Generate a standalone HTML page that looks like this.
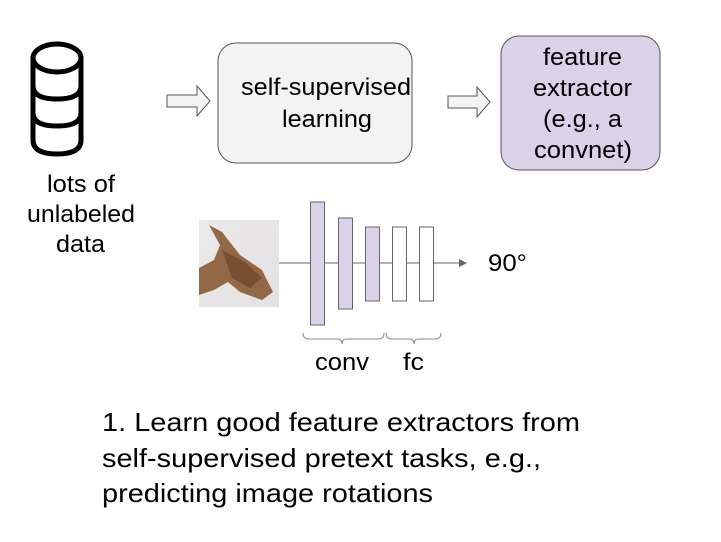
<!DOCTYPE html>
<html><head><meta charset="utf-8"><style>
html,body{margin:0;padding:0;background:#fff;}
svg{display:block;font-family:"Liberation Sans",Arial,sans-serif;}
</style></head><body>
<svg width="721" height="542" viewBox="0 0 721 542">
  <g fill="none" stroke="#000" stroke-width="5">
    <ellipse cx="57" cy="58" rx="24" ry="14"/>
    <path d="M33 58 V140 Q33 154 57 154 Q81 154 81 140 V58"/>
    <path d="M33 86 Q33 99 57 99 Q81 99 81 86"/>
    <path d="M33 113 Q33 126 57 126 Q81 126 81 113"/>
  </g>
  <g font-size="24" fill="#000" lengthAdjust="spacingAndGlyphs">
    <text x="47" y="192" textLength="68" lengthAdjust="spacingAndGlyphs">lots of</text>
    <text x="27" y="222" textLength="108" lengthAdjust="spacingAndGlyphs">unlabeled</text>
    <text x="56" y="252" textLength="49" lengthAdjust="spacingAndGlyphs">data</text>
  </g>
  <path d="M167 95 H197 V86 L210 101 L197 116 V107 H167 Z" fill="#f3f3f3" stroke="#555" stroke-width="1"/>
  <rect x="218" y="43" width="194" height="120" rx="18" fill="#f3f3f3" stroke="#555" stroke-width="1"/>
  <g font-size="24" fill="#000">
    <text x="241" y="95" textLength="170" lengthAdjust="spacingAndGlyphs">self-supervised</text>
    <text x="282" y="127" textLength="90" lengthAdjust="spacingAndGlyphs">learning</text>
  </g>
  <path d="M448 96 H477 V87 L490 102 L477 117 V108 H448 Z" fill="#f3f3f3" stroke="#555" stroke-width="1"/>
  <rect x="501" y="36" width="159" height="134" rx="18" fill="#d9d2e9" stroke="#555" stroke-width="1"/>
  <g font-size="24" fill="#000">
    <text x="543" y="65" textLength="79" lengthAdjust="spacingAndGlyphs">feature</text>
    <text x="533" y="96" textLength="99" lengthAdjust="spacingAndGlyphs">extractor</text>
    <text x="543" y="127" textLength="79" lengthAdjust="spacingAndGlyphs">(e.g., a</text>
    <text x="534" y="158" textLength="98" lengthAdjust="spacingAndGlyphs">convnet)</text>
  </g>
  <defs>
    <linearGradient id="bg" x1="0" y1="0" x2="1" y2="1">
      <stop offset="0" stop-color="#ece9ea"/><stop offset="1" stop-color="#e4e1e2"/>
    </linearGradient>
  </defs>
  <g>
    <rect x="199" y="220" width="80" height="87" fill="url(#bg)"/>
    <path d="M209 225 L222 232 L240 255 L262 270 L273 292 L262 300 L240 292 L228 282 L214 290 L199 295 L199 268 L214 260 L220 245 Z" fill="#8a5a35" opacity="0.9"/>
    <path d="M222 250 L245 262 L262 278 L250 288 L232 278 Z" fill="#6b4426" opacity="0.7"/>
  </g>
  <line x1="279" y1="263" x2="460" y2="263" stroke="#666" stroke-width="1"/>
  <path d="M459 259 L467 263 L459 267 Z" fill="#666"/>
  <g stroke="#666" stroke-width="1">
    <rect x="310.5" y="202" width="14" height="123" fill="#d9d2e9"/>
    <rect x="338.5" y="218" width="14" height="91" fill="#d9d2e9"/>
    <rect x="365.5" y="227" width="14" height="74" fill="#d9d2e9"/>
    <rect x="392.5" y="227" width="14" height="74" fill="#fff"/>
    <rect x="419.5" y="227" width="14" height="74" fill="#fff"/>
  </g>
  <text x="488" y="271" font-size="24" textLength="39" lengthAdjust="spacingAndGlyphs" fill="#000">90°</text>
  <g fill="none" stroke="#888" stroke-width="1">
    <path d="M303 333 Q303 339 309 339 H337 Q342 339 342 344 Q342 339 347 339 H378 Q384 339 384 333"/>
    <path d="M386 333 Q386 339 392 339 H409 Q414 339 414 344 Q414 339 419 339 H435 Q441 339 441 333"/>
  </g>
  <text x="315" y="370" font-size="24" textLength="54" lengthAdjust="spacingAndGlyphs">conv</text>
  <text x="403" y="370" font-size="24" textLength="21" lengthAdjust="spacingAndGlyphs">fc</text>
  <g font-size="26" fill="#000">
    <text x="102" y="431" textLength="478" lengthAdjust="spacingAndGlyphs">1. Learn good feature extractors from</text>
    <text x="102" y="467" textLength="439" lengthAdjust="spacingAndGlyphs">self-supervised pretext tasks, e.g.,</text>
    <text x="102" y="502" textLength="331" lengthAdjust="spacingAndGlyphs">predicting image rotations</text>
  </g>
</svg>
</body></html>
